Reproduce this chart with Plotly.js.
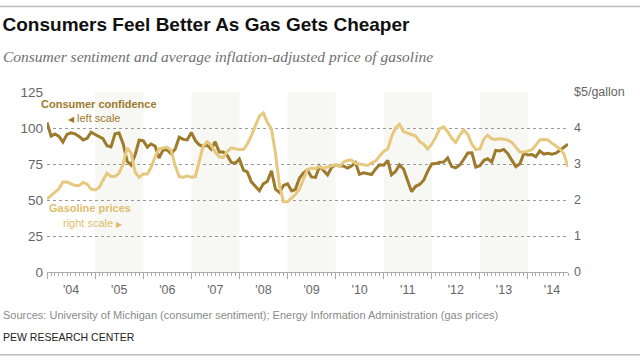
<!DOCTYPE html>
<html>
<head>
<meta charset="utf-8">
<script src="https://cdn.plot.ly/plotly-3.0.1.min.js"></script>
<style>
  html, body { margin: 0; padding: 0; background: #fff; }
  #chart { width: 640px; height: 363px; }
</style>
</head>
<body>
<div id="chart"></div>
<script>
// ---- Data (monthly, Jan 2004 – Nov 2014) ----
const startYear = 2004;
const consumerConfidence = [
  103.8, 94.4, 95.8, 94.2, 90.2, 95.6, 96.7, 95.9, 94.2, 91.7, 92.8, 97.1,   // 2004
  95.5, 94.1, 92.6, 87.7, 86.9, 96.0, 96.5, 89.1, 76.9, 74.2, 81.6, 91.5,    // 2005
  91.2, 86.7, 88.9, 87.4, 79.1, 84.9, 84.7, 82.0, 85.4, 93.6, 92.1, 91.7,    // 2006
  96.9, 91.3, 88.4, 87.1, 88.3, 85.3, 90.4, 83.4, 83.4, 80.9, 76.1, 75.5,    // 2007
  78.4, 70.8, 69.5, 62.6, 59.8, 56.4, 61.2, 63.0, 70.3, 57.6, 55.3, 60.1,    // 2008
  61.2, 56.3, 57.3, 65.1, 68.7, 70.8, 66.0, 65.7, 73.5, 70.6, 67.4, 72.5,    // 2009
  74.4, 73.6, 73.6, 72.2, 73.6, 76.0, 67.8, 68.9, 68.2, 67.7, 71.6, 74.5,    // 2010
  74.2, 77.5, 67.5, 69.8, 74.3, 71.5, 63.7, 55.8, 59.5, 60.8, 63.7, 69.9,    // 2011
  75.0, 75.3, 76.2, 76.4, 79.3, 73.2, 72.3, 74.3, 78.3, 82.6, 82.7, 72.9,    // 2012
  73.8, 77.6, 78.6, 76.4, 84.5, 84.1, 85.1, 82.1, 77.5, 73.2, 75.1, 82.5,    // 2013
  81.2, 81.6, 80.0, 84.1, 81.9, 82.5, 81.8, 82.5, 84.6, 86.9, 88.8           // 2014
];
const gasolinePrice = [
  2.03, 2.12, 2.22, 2.31, 2.50, 2.50, 2.45, 2.40, 2.40, 2.49, 2.44, 2.30,   // 2004
  2.28, 2.35, 2.55, 2.74, 2.65, 2.65, 2.75, 3.00, 3.45, 3.30, 2.77, 2.63,   // 2005
  2.72, 2.72, 2.90, 3.20, 3.42, 3.44, 3.47, 3.38, 2.95, 2.65, 2.63, 2.67,   // 2006
  2.63, 2.65, 3.05, 3.50, 3.62, 3.52, 3.33, 3.20, 3.18, 3.35, 3.45, 3.42,   // 2007
  3.40, 3.40, 3.55, 3.79, 4.07, 4.33, 4.42, 4.15, 3.98, 3.30, 2.40, 1.95,   // 2008
  1.95, 2.06, 2.15, 2.30, 2.55, 2.85, 2.88, 2.87, 2.93, 2.88, 2.92, 2.95,   // 2009
  2.98, 2.93, 3.05, 3.10, 3.11, 3.02, 3.00, 2.97, 2.96, 3.03, 3.08, 3.22,   // 2010
  3.35, 3.42, 3.75, 4.00, 4.10, 3.90, 3.85, 3.82, 3.78, 3.62, 3.55, 3.42,   // 2011
  3.55, 3.75, 3.98, 4.03, 3.90, 3.72, 3.60, 3.80, 3.95, 3.82, 3.55, 3.40,   // 2012
  3.42, 3.70, 3.80, 3.70, 3.68, 3.70, 3.69, 3.66, 3.60, 3.45, 3.33, 3.33,   // 2013
  3.37, 3.40, 3.52, 3.67, 3.68, 3.67, 3.58, 3.50, 3.42, 3.28, 2.92          // 2014
];
const shadedYears = [2005, 2007, 2009, 2011, 2013];
const leftTicks = [0, 25, 50, 75, 100, 125];
const rightTicks = [0, 1, 2, 3, 4, 5];
const rightTickText = ['0', '1', '2', '3', '4', '$5/gallon'];

// ---- Build dates ----
function monthDate(i) {
  const y = startYear + Math.floor(i / 12);
  const m = (i % 12) + 1;
  return y + '-' + String(m).padStart(2, '0') + '-01';
}
const dates = consumerConfidence.map((_, i) => monthDate(i));

const DARK = '#9d7a2c';
const LIGHT = '#e6c87e';
const LIGHT_TXT = '#dfbd6c';
const SANS = '"Liberation Sans", Arial, sans-serif';

const traces = [
  {
    x: dates, y: gasolinePrice, yaxis: 'y2', type: 'scatter', mode: 'lines',
    line: { color: LIGHT, width: 3 }, hoverinfo: 'skip'
  },
  {
    x: dates, y: consumerConfidence, yaxis: 'y', type: 'scatter', mode: 'lines',
    line: { color: DARK, width: 3 }, hoverinfo: 'skip'
  }
];

const shapes = shadedYears.map(yr => ({
  type: 'rect', xref: 'x', yref: 'paper',
  x0: yr + '-01-01', x1: (yr + 1) + '-01-01', y0: 0, y1: 1,
  fillcolor: '#f7f7f3', line: { width: 0 }, layer: 'below'
}));
// rules at top and bottom of the graphic
shapes.push({ type: 'line', xref: 'paper', yref: 'paper', x0: -0.1, x1: 1.2, y0: 1.475, y1: 1.475,
  line: { color: '#bbbbbb', width: 1.5 } });
shapes.push({ type: 'line', xref: 'paper', yref: 'paper', x0: -0.1, x1: 1.2, y0: -0.46, y1: -0.46,
  line: { color: '#bbbbbb', width: 1.5 } });

const annotations = [
  { text: 'Consumer sentiment and average inflation-adjusted price of gasoline',
    xref: 'paper', yref: 'paper', x: -0.088, y: 1.195, xanchor: 'left', yanchor: 'middle',
    showarrow: false, font: { family: '"Liberation Serif", "DejaVu Serif", serif', size: 15.5, color: '#6f6f6f', style: 'italic' } },
  { text: 'Consumer confidence', xref: 'paper', yref: 'paper', x: 0.099, y: 0.936,
    xanchor: 'center', yanchor: 'middle', showarrow: false,
    font: { family: SANS, size: 11, color: DARK, weight: 'bold' } },
  { text: '<span style="font-size:8px">◀</span> left scale', xref: 'paper', yref: 'paper', x: 0.091, y: 0.858,
    xanchor: 'center', yanchor: 'middle', showarrow: false,
    font: { family: SANS, size: 11, color: DARK } },
  { text: 'Gasoline prices', xref: 'paper', yref: 'paper', x: 0.082, y: 0.353,
    xanchor: 'center', yanchor: 'middle', showarrow: false,
    font: { family: SANS, size: 11, color: LIGHT_TXT, weight: 'bold' } },
  { text: 'right scale <span style="font-size:8px">▶</span>', xref: 'paper', yref: 'paper', x: 0.0875, y: 0.273,
    xanchor: 'center', yanchor: 'middle', showarrow: false,
    font: { family: SANS, size: 11, color: LIGHT_TXT } },
  { text: 'Sources: University of Michigan (consumer sentiment); Energy Information Administration (gas prices)',
    xref: 'paper', yref: 'paper', x: -0.088, y: -0.24, xanchor: 'left', yanchor: 'middle',
    showarrow: false, font: { family: SANS, size: 11, color: '#8a8a8a' } },
  { text: 'PEW RESEARCH CENTER', xref: 'paper', yref: 'paper', x: -0.088, y: -0.363,
    xanchor: 'left', yanchor: 'middle', showarrow: false,
    font: { family: SANS, size: 10.5, color: '#222' } }
];

const layout = {
  width: 640, height: 363,
  margin: { l: 47, r: 72, t: 92, b: 91, pad: 0 },
  paper_bgcolor: '#fff', plot_bgcolor: 'rgba(0,0,0,0)',
  showlegend: false,
  title: {
    text: 'Consumers Feel Better As Gas Gets Cheaper',
    xref: 'container', yref: 'container', x: 0.004, xanchor: 'left',
    y: 1 - 24 / 363, yanchor: 'middle',
    font: { family: SANS, size: 19, color: '#111', weight: 'bold' }
  },
  xaxis: {
    type: 'date',
    range: [dates[0], dates[dates.length - 1]],
    dtick: 'M12', tick0: startYear + '-01-01',
    tickformat: "'%y", ticklabelmode: 'period',
    ticks: 'outside', ticklen: 6, tickcolor: '#aaa', tickwidth: 1,
    minor: { dtick: 'M1', tick0: startYear + '-01-01', ticks: 'outside', ticklen: 3, tickcolor: '#aaa', showgrid: false },
    showline: true, linecolor: '#aaa', linewidth: 1,
    showgrid: false, zeroline: false,
    tickfont: { family: SANS, size: 12.5, color: '#666' },
    fixedrange: true
  },
  yaxis: {
    range: [0, 125], tickvals: leftTicks,
    showgrid: true, gridcolor: '#999', griddash: 'dot', gridwidth: 1,
    zeroline: false, showline: false, ticks: '',
    ticklabelstandoff: 3,
    tickfont: { family: SANS, size: 13.5, color: '#666' },
    fixedrange: true
  },
  yaxis2: {
    range: [0, 5], overlaying: 'y', side: 'right',
    tickvals: rightTicks, ticktext: rightTickText,
    showgrid: false, zeroline: false, showline: false, ticks: '',
    ticklabelstandoff: 5,
    tickfont: { family: SANS, size: 12.5, color: '#666' },
    fixedrange: true
  },
  shapes: shapes,
  annotations: annotations
};

Plotly.newPlot('chart', traces, layout, { displayModeBar: false, staticPlot: true });
</script>
</body>
</html>
